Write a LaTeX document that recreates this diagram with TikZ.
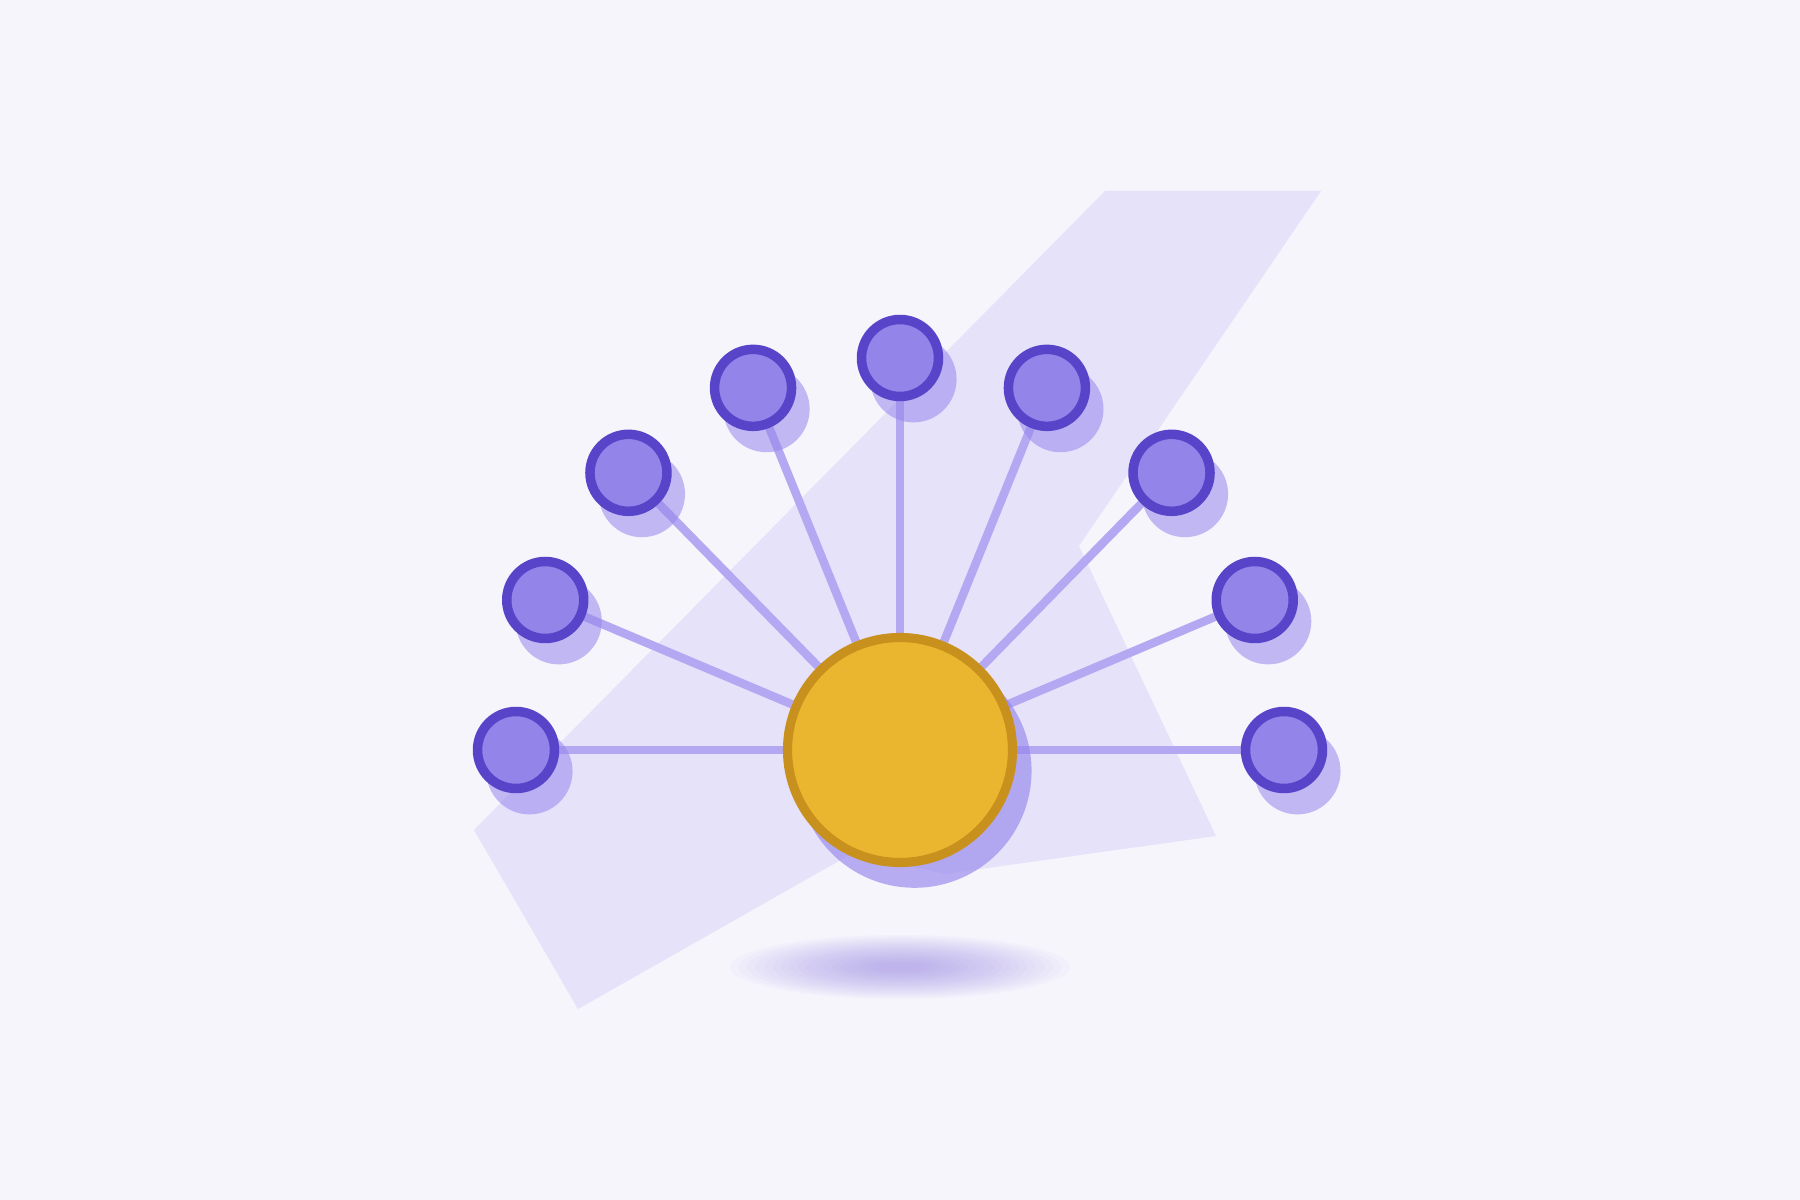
\documentclass[tikz,border=0pt]{standalone}
\usepackage{tikz}
\usetikzlibrary{shapes}
\usetikzlibrary{shadows}
\definecolor{paper}{RGB}{246,245,252}
\definecolor{bolt}{RGB}{230,226,250}
\definecolor{linkcol}{RGB}{181,168,242}
\definecolor{leaffill}{RGB}{147,132,234}
\definecolor{leafring}{RGB}{88,68,200}
\definecolor{hubfill}{RGB}{234,181,47}
\definecolor{hubring}{RGB}{200,144,28}
\definecolor{shadowcol}{RGB}{150,134,236}
\pgfdeclarelayer{back}
\pgfdeclarelayer{spokes}
\pgfsetlayers{back,spokes,main}
\tikzstyle{leaf} = [circle, draw = leafring, fill = leaffill, line width = 2.7pt, minimum size = 0.77cm, inner sep = 0,
  drop shadow = {shadow xshift = 0.12cm, shadow yshift = -0.19cm, shadow scale = 1.12, fill = shadowcol, opacity = 0.55}]
\tikzstyle{hub} = [circle, draw = hubring, fill = hubfill, line width = 2.6pt, minimum size = 2.25cm, inner sep = 0,
  drop shadow = {shadow xshift = 0.14cm, shadow yshift = -0.2cm, shadow scale = 1.04, fill = shadowcol, opacity = 0.65}]
\tikzstyle{link} = [-, draw = linkcol, line width = 2.4pt]

\begin{document}
\begin{tikzpicture}
\useasboundingbox (0, 0) rectangle (18, 12);
\begin{pgfonlayer}{back}
\fill [paper] (0, 0) rectangle (18, 12);
% the pale bolt behind the fan
\fill [bolt] (11.05, 10.09) -- (13.21, 10.09) -- (10.79, 6.54) -- (12.16, 3.64) -- (9.45, 3.26)
  -- (8.53, 3.47) -- (5.78, 1.91) -- (4.74, 3.70) -- cycle;
% soft shadow on the ground
\foreach \k in {0,...,17}
  \fill [shadowcol, opacity = 0.04] (9, 2.33) ellipse ({1.7-0.085*\k} and {0.32-0.016*\k});
\end{pgfonlayer}

\node [hub] (hub) at (9, 4.5) {};
\foreach \i [evaluate = \i as \a using {180-22.5*(\i-1)}] in {1,...,9}
  \node [leaf] (n\i) at ({9+3.84*cos(\a)}, {4.5+3.92*sin(\a)}) {};

\begin{pgfonlayer}{spokes}
\foreach \i in {1,...,9}
  \draw [link] (n\i) to (hub);
\end{pgfonlayer}
\end{tikzpicture}
\end{document}
